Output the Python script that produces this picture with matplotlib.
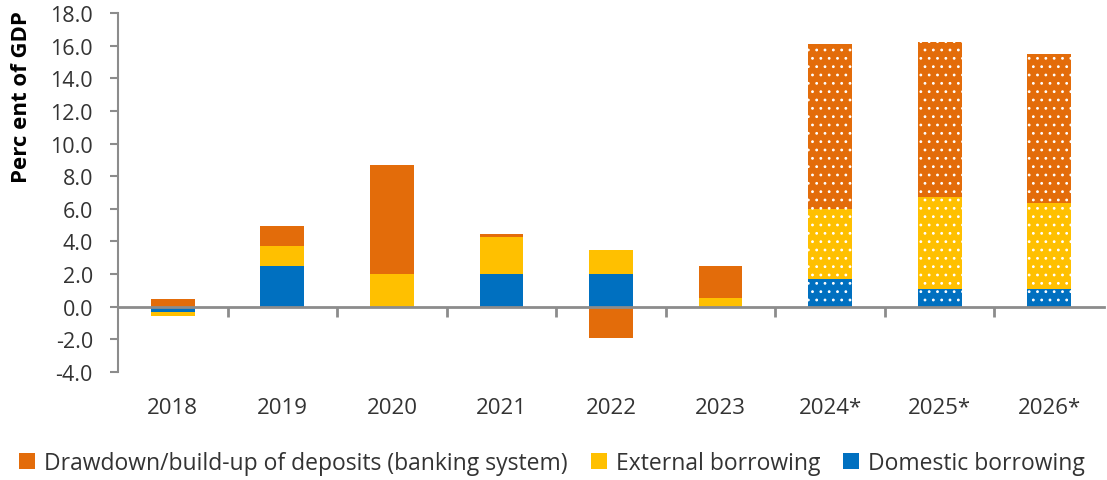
import matplotlib
matplotlib.use("Agg")
import matplotlib.pyplot as plt
import numpy as np
from matplotlib.transforms import blended_transform_factory

plt.rcParams['font.family'] = ['Open Sans', 'DejaVu Sans']
plt.rcParams['hatch.linewidth'] = 0.8

# Data (percent of GDP)
years = ["2018", "2019", "2020", "2021", "2022", "2023", "2024*", "2025*", "2026*"]
domestic = [-0.3, 2.5, 0.0, 2.0, 2.0, 0.0, 1.7, 1.1, 1.1]
external = [-0.25, 1.25, 2.0, 2.3, 1.5, 0.55, 4.3, 5.6, 5.25]
deposits = [0.5, 1.2, 6.7, 0.15, -1.9, 1.95, 10.1, 9.5, 9.15]
projected = [False, False, False, False, False, False, True, True, True]

c_dep = "#E36C0A"
c_ext = "#FFC000"
c_dom = "#0070C0"
axis_gray = "#8C8C8C"
text_col = "#333333"

fig = plt.figure(figsize=(11.07, 4.81), dpi=100)
ax = fig.add_axes([118 / 1107, 1 - 373 / 481, 986 / 1107, 359 / 481])

x = np.arange(len(years))
width = 0.4

pos_base = np.zeros(len(years))
neg_base = np.zeros(len(years))


def stack(vals, color, label):
    global pos_base, neg_base
    vals = np.array(vals)
    bottoms = np.where(vals >= 0, pos_base, neg_base)
    for i in range(len(vals)):
        if projected[i]:
            ax.bar(x[i], vals[i], width, bottom=bottoms[i], color=color,
                   edgecolor="white", linewidth=0, hatch="..")
        else:
            ax.bar(x[i], vals[i], width, bottom=bottoms[i], color=color,
                   linewidth=0)
    pos_base = pos_base + np.where(vals >= 0, vals, 0)
    neg_base = neg_base + np.where(vals < 0, vals, 0)
    return ax.bar([0], [0], 0, color=color, label=label)


h_dom = stack(domestic, c_dom, "Domestic borrowing")
h_ext = stack(external, c_ext, "External borrowing")
h_dep = stack(deposits, c_dep, "Drawdown/build-up of deposits (banking system)")

ax.set_xlim(-0.5, len(years) - 0.5)
ax.set_ylim(-4, 18)
ax.set_yticks(np.arange(-4, 18.1, 2))
ax.set_yticklabels([f"{v:.1f}" for v in np.arange(-4, 18.1, 2)])

for s in ["top", "right"]:
    ax.spines[s].set_visible(False)
ax.spines["left"].set_color(axis_gray)
ax.spines["left"].set_linewidth(1.5)
ax.spines["bottom"].set_position(("data", 0))
ax.spines["bottom"].set_color(axis_gray)
ax.spines["bottom"].set_linewidth(2)

ax.tick_params(axis="y", direction="out", length=6, width=1.5, color=axis_gray,
               labelsize=15.5, labelcolor=text_col, pad=12)
ax.set_xticks(x)
ax.tick_params(axis="x", which="major", length=0, labelbottom=False)
ax.set_xticks(x[:-1] + 0.5, minor=True)
ax.tick_params(axis="x", which="minor", direction="out", length=7, width=2,
               color=axis_gray)

trans = blended_transform_factory(ax.transData, ax.transAxes)
for i, yr in enumerate(years):
    ax.text(x[i], -0.1, yr, transform=trans, ha="center", va="center",
            fontsize=16, color=text_col)

fig.text(22 / 1107, 1 - 97 / 481, "Perc ent of GDP", rotation=90, ha="center",
         va="center", fontsize=16, fontweight="bold", color="black")

fig.legend(handles=[h_dep, h_ext, h_dom], loc="center", ncol=3,
           bbox_to_anchor=(552 / 1107, 1 - 464 / 481), frameon=False,
           fontsize=16.5, handlelength=0.7, handleheight=0.7,
           handletextpad=0.4, columnspacing=1.0, labelcolor=text_col)

fig.savefig("out.png", dpi=100)
